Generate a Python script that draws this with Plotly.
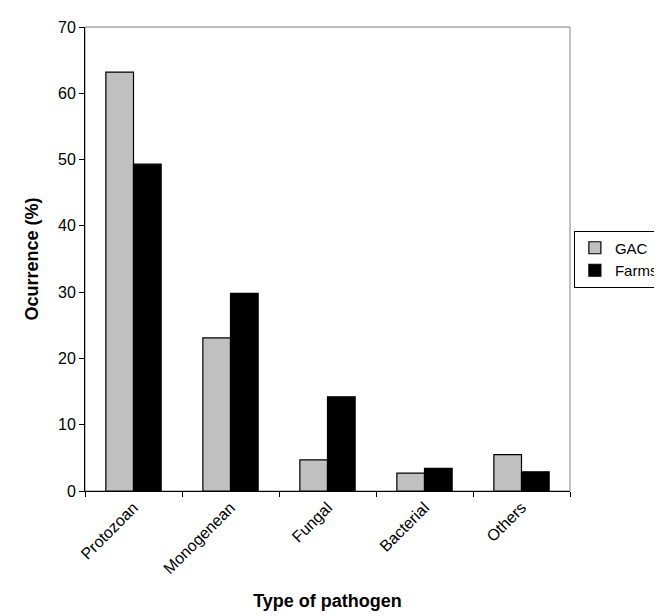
import plotly.graph_objects as go

categories = ["Protozoan", "Monogenean", "Fungal", "Bacterial", "Others"]
gac = [63.2, 23.1, 4.7, 2.7, 5.5]
farms = [49.3, 29.8, 14.2, 3.4, 2.9]
y_ticks = [0, 10, 20, 30, 40, 50, 60, 70]

FONT = "Liberation Sans, Arial, sans-serif"

fig = go.Figure()
fig.add_trace(go.Bar(x=categories, y=gac, name="GAC",
                     marker=dict(color="#c0c0c0", line=dict(color="black", width=1.2))))
fig.add_trace(go.Bar(x=categories, y=farms, name="Farms",
                     marker=dict(color="black", line=dict(color="black", width=1.2))))

fig.update_layout(
    width=662, height=616,
    margin=dict(l=77, r=100, t=19, b=133, autoexpand=False),
    paper_bgcolor="white", plot_bgcolor="white",
    barmode="group", bargap=0.43, bargroupgap=0,
    font=dict(family=FONT, size=16, color="black"),
    showlegend=True,
    legend=dict(x=1.008, xanchor="left", y=0.5, yanchor="middle",
                bordercolor="black", borderwidth=1, bgcolor="white",
                font=dict(size=15), itemwidth=30, tracegroupgap=4),
    shapes=[dict(type="rect", xref="paper", yref="paper", x0=0, x1=1, y0=0, y1=1,
                 line=dict(color="#808080", width=1), layer="below")],
)
fig.update_xaxes(
    title=dict(text="<b>Type of pathogen</b>", font=dict(size=18), standoff=18),
    tickangle=-45, tickson="boundaries", ticks="outside", ticklen=5,
    tickcolor="black", showline=True, linecolor="black", linewidth=1,
    showgrid=False, tickfont=dict(size=16), automargin=False,
)
fig.update_yaxes(
    title=dict(text="<b>Ocurrence (%)</b>", font=dict(size=18), standoff=14),
    range=[0, 70], tickvals=y_ticks, ticks="outside", ticklen=5,
    tickcolor="black", showline=True, linecolor="black", linewidth=1,
    showgrid=False, zeroline=False, tickfont=dict(size=16), automargin=False,
)

fig.write_html("out.html")
